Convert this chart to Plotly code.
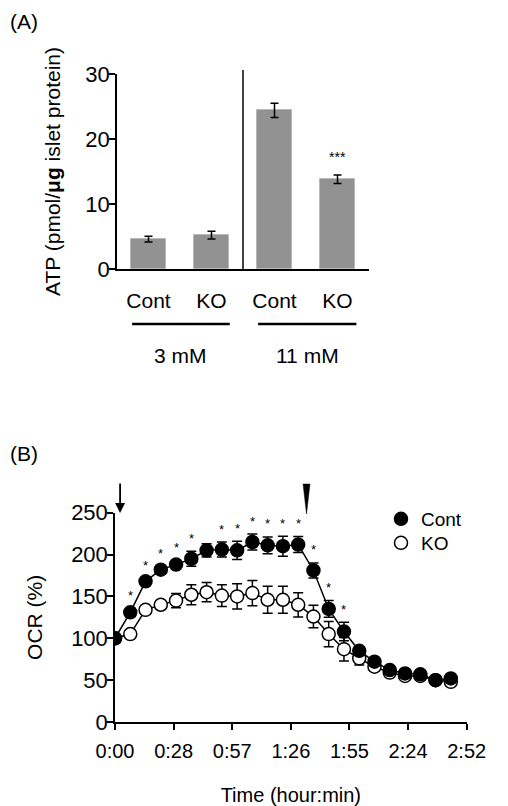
import plotly.graph_objects as go

# ---------------- Panel A data ----------------
atp_categories = ["Cont 3 mM", "KO 3 mM", "Cont 11 mM", "KO 11 mM"]
atp_tick_text = ["Cont", "KO", "Cont", "KO"]
atp_values = [4.6, 5.2, 24.4, 13.8]
atp_errors = [0.45, 0.6, 1.1, 0.65]
atp_sig = ["", "", "", "***"]
atp_groups = ["3 mM", "11 mM"]

# ---------------- Panel B data ----------------
time_min = [0, 7.5, 15, 22.5, 30, 37.5, 45, 52.5, 60, 67.5, 75, 82.5, 90,
            97.5, 105, 112.5, 120, 127.5, 135, 142.5, 150, 157.5, 165]
ocr_cont = [100, 131, 168, 182, 188, 195, 205, 206, 205, 215, 211, 210, 212,
            181, 135, 108, 85, 72, 62, 58, 57, 50, 52]
ocr_cont_err = [0, 5, 4, 4, 5, 9, 8, 9, 11, 9.5, 10, 12, 9.5,
                9, 10, 11, 5, 4, 4, 3, 3, 3, 3]
ocr_ko = [100, 105, 134, 140, 145, 152, 155, 151, 150, 154, 146, 146, 140,
          126, 105, 87, 76, 66, 59, 55, 55, 50, 48]
ocr_ko_err = [0, 4, 5, 5, 8.5, 12, 11.5, 13, 15, 15, 16, 16, 14.5,
              13.5, 15, 14, 8, 5, 4, 3, 3, 3, 3]
ocr_sig = ["", "*", "*", "*", "*", "*", "", "*", "*", "*", "*", "*", "*",
           "*", "*", "*", "", "", "", "", "", "", ""]
time_tickvals = [0, 28.8, 57.6, 86.4, 115.2, 144, 172.8]
time_ticktext = ["0:00", "0:28", "0:57", "1:26", "1:55", "2:24", "2:52"]

FONT = "Liberation Sans, Arial, sans-serif"
OFF = 8  # page body margin
W, H = 508 - OFF, 806 - OFF

def px_x(p):
    return (p - OFF) / W

def px_y(p):
    return 1 - (p - OFF) / H

fig = go.Figure()

# Panel A bars
fig.add_trace(go.Bar(
    x=atp_categories, y=atp_values,
    error_y=dict(type="data", array=atp_errors, color="black", thickness=1.5, width=4),
    marker=dict(color="#929292", line=dict(color="#b8b8b8", width=1)),
    width=0.56, xaxis="x", yaxis="y", showlegend=False,
))

# Panel B: KO
fig.add_trace(go.Scatter(
    x=time_min, y=ocr_ko, mode="lines", line=dict(color="black", width=1.5),
    xaxis="x2", yaxis="y2", showlegend=False, hoverinfo="skip",
))
fig.add_trace(go.Scatter(
    x=time_min, y=ocr_ko, mode="markers", name="KO", legend="legend2",
    marker=dict(color="white", size=13, line=dict(color="black", width=1.5)),
    error_y=dict(type="data", array=ocr_ko_err, color="black", thickness=1.5, width=5),
    xaxis="x2", yaxis="y2",
))
# Panel B: Cont
fig.add_trace(go.Scatter(
    x=time_min, y=ocr_cont, mode="lines", line=dict(color="black", width=1.5),
    xaxis="x2", yaxis="y2", showlegend=False, hoverinfo="skip",
))
fig.add_trace(go.Scatter(
    x=time_min, y=ocr_cont, mode="markers", name="Cont", legend="legend",
    marker=dict(color="black", size=13, line=dict(color="black", width=1.5)),
    error_y=dict(type="data", array=ocr_cont_err, color="black", thickness=1.5, width=5),
    xaxis="x2", yaxis="y2",
))

annotations = []
shapes = []

# significance stars panel A
for c, v, e, s in zip(atp_categories, atp_values, atp_errors, atp_sig):
    if s:
        annotations.append(dict(x=c, y=v + e, xref="x", yref="y", text=s, showarrow=False,
                                yanchor="bottom", yshift=8, font=dict(size=14, family=FONT, color="black")))

# significance stars panel B
for t, v, e, s in zip(time_min, ocr_cont, ocr_cont_err, ocr_sig):
    if s:
        annotations.append(dict(x=t, y=v + e, xref="x2", yref="y2", text=s, showarrow=False,
                                yanchor="middle", yshift=13, font=dict(size=13, family=FONT, color="black")))

# group labels panel A
group_spans = [(-0.26, 1.29), (1.74, 3.3)]
group_centers = [0.5, 2.53]
for (a, b), cx, g in zip(group_spans, group_centers, atp_groups):
    shapes.append(dict(type="line", xref="x", yref="paper", x0=a, x1=b,
                       y0=px_y(324), y1=px_y(324), line=dict(color="black", width=2.5)))
    annotations.append(dict(x=cx, y=px_y(355), xref="x", yref="paper", text=g, showarrow=False,
                            font=dict(size=21, family=FONT, color="black")))

# separator line panel A
shapes.append(dict(type="line", xref="x", yref="paper", x0=1.5, x1=1.5, y0=px_y(269), y1=px_y(70),
                   line=dict(color="black", width=1.5)))

# panel labels
annotations.append(dict(x=0, y=1, xref="paper", yref="paper", text="(A)",
                        showarrow=False, xanchor="left", yanchor="top",
                        font=dict(size=21, family=FONT, color="black")))
annotations.append(dict(x=0, y=px_y(453), xref="paper", yref="paper", text="(B)",
                        showarrow=False, xanchor="left", yanchor="middle",
                        font=dict(size=21, family=FONT, color="black")))

# arrow at time 0
annotations.append(dict(x=2.5, y=px_y(513), xref="x2", yref="paper", ax=0, ay=-31,
                        text="", showarrow=True, arrowhead=2, arrowsize=1.1, arrowwidth=1.8,
                        arrowcolor="black"))
# wedge marker
shapes.append(dict(type="path", xref="x2", yref="paper",
                   path=f"M 92.4,{px_y(484)} L 95.8,{px_y(484)} L 94.1,{px_y(514)} Z",
                   fillcolor="black", line=dict(color="black", width=0.5)))

legend_style = dict(xanchor="left", yanchor="top", bgcolor="rgba(0,0,0,0)",
                    font=dict(size=19, family=FONT), itemsizing="trace")

fig.update_layout(
    width=W, height=H,
    margin=dict(l=0, r=0, t=0, b=0, autoexpand=False),
    paper_bgcolor="white", plot_bgcolor="white",
    font=dict(family=FONT, color="black", size=20),
    bargap=0,
    annotations=annotations,
    shapes=shapes,
    legend=dict(x=px_x(381), y=px_y(500), **legend_style),
    legend2=dict(x=px_x(381), y=px_y(524), **legend_style),
    xaxis=dict(domain=[px_x(117), px_x(369)], anchor="y", type="category",
               categoryorder="array", categoryarray=atp_categories,
               range=[-0.5, 3.5], showline=True, linecolor="black", linewidth=1.5,
               tickvals=atp_categories, ticktext=atp_tick_text, ticks="",
               ticklabelstandoff=12, tickfont=dict(size=21), showgrid=False, zeroline=False,
               automargin=False, fixedrange=True),
    yaxis=dict(domain=[px_y(269), px_y(74)], anchor="x", range=[0, 30],
               tickvals=[0, 10, 20, 30], showline=True, linecolor="black", linewidth=1.5,
               ticks="outside", ticklen=6, tickwidth=1.5, tickcolor="black",
               ticklabelstandoff=-5,
               tickfont=dict(size=22), showgrid=False, zeroline=False, automargin=False,
               title=dict(text="ATP (pmol/<b>μg</b> islet protein)", font=dict(size=21), standoff=19)),
    xaxis2=dict(domain=[px_x(115), px_x(466.7)], anchor="y2", range=[0, 172.8],
                tickvals=time_tickvals, ticktext=time_ticktext,
                showline=True, linecolor="black", linewidth=1.5,
                ticks="outside", ticklen=6, tickwidth=1.5, tickcolor="black",
                ticklabelstandoff=4,
                tickfont=dict(size=20), showgrid=False, zeroline=False, automargin=False,
                title=dict(text="Time (hour:min)", font=dict(size=20), standoff=28)),
    yaxis2=dict(domain=[px_y(722), px_y(512.7)], anchor="x2", range=[0, 250],
                tickvals=[0, 50, 100, 150, 200, 250], showline=True, linecolor="black", linewidth=1.5,
                ticks="outside", ticklen=6, tickwidth=1.5, tickcolor="black",
                ticklabelstandoff=-5,
                tickfont=dict(size=22), showgrid=False, zeroline=False, automargin=False,
                title=dict(text="OCR (%)", font=dict(size=21), standoff=23)),
)

fig.write_html("out.html")
